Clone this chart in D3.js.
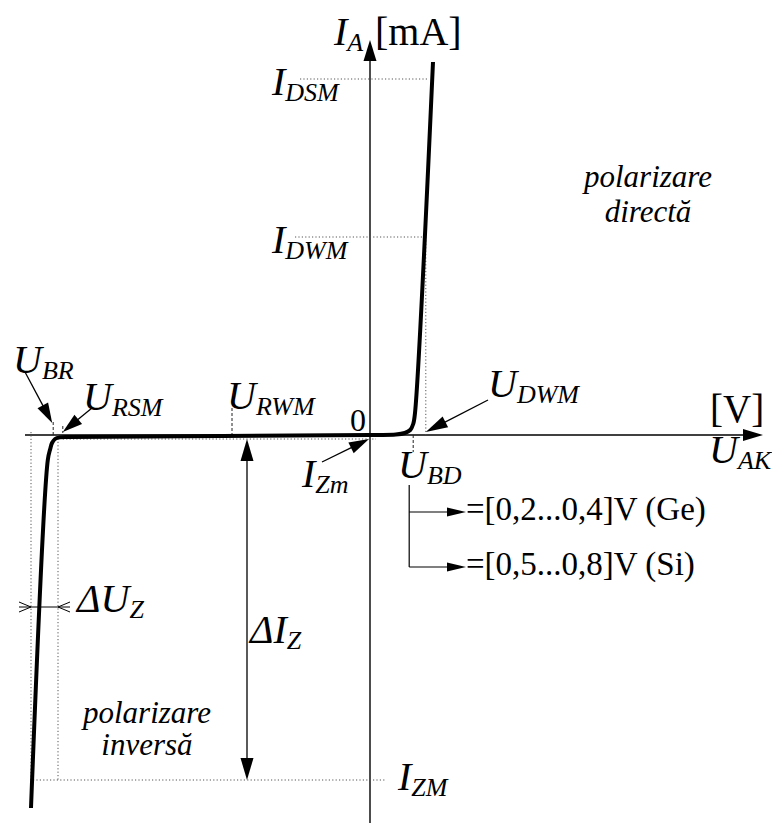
<!DOCTYPE html>
<html><head><meta charset="utf-8">
<script src="https://cdn.jsdelivr.net/npm/d3@7"></script>
<style>
html,body{margin:0;background:#fff}
svg{display:block}
</style>
</head><body>
<svg id="chart" width="772" height="823"></svg>
<script>
// Zener diode I–U characteristic (schematic). U in V, I in mA.
const curveU = [-5.65, -5.37, -5.33, -5.30, -5.25, -5.17, -5.0, 0, 0.43, 0.58, 0.67, 0.72, 0.75, 1.05];
const curveI = [-93.25, -6.25, -3.5, -2.0, -1.0, -0.6, -0.5, 0, 0.1, 0.5, 1.25, 2.75, 5.5, 93.25];

// characteristic currents (mA)
const iDSM = 89, iDWM = 49.5, iZm = -1, iZM = -86.25;
// characteristic voltages (V)
const uBR = -5.28, uRSM = -5.12, uRWM = -2.3, uBD = 0.72, uDWM = 0.93;
const uZrange = [-5.65, -5.2];
const ubdRanges = ["=[0,2...0,4]V (Ge)", "=[0,5...0,8]V (Si)"];

const FONT = '"Liberation Serif", "Times New Roman", Times, serif';
const svg = d3.select("#chart");
const x = d3.scaleLinear().domain([-5.75, 6.55]).range([25, 763]);
const y = d3.scaleLinear().domain([-97, 98.75]).range([823, 40]);

const pts = curveU.map((u, k) => ({u, i: curveI[k]}));
const x0 = x(0), y0 = y(0);

// U on the steep forward branch for a given current
function uForward(i) {
  const a = pts[pts.length - 2], b = pts[pts.length - 1];
  return a.u + (b.u - a.u) * (i - a.i) / (b.i - a.i);
}

function line(x1, y1, x2, y2, w = 1.3, dash = null, color = "#000") {
  const l = svg.append("line").attr("x1", x1).attr("y1", y1).attr("x2", x2).attr("y2", y2)
    .attr("stroke", color).attr("stroke-width", w);
  if (dash) l.attr("stroke-dasharray", dash);
  return l;
}
const dotted = (x1, y1, x2, y2) => line(x1, y1, x2, y2, 1, "1.2,2.2", "#555");
const dashed = (x1, y1, x2, y2) => line(x1, y1, x2, y2, 1, "3,2", "#222");

function head(tx, ty, ang, len = 20, w = 12) {
  const c = Math.cos(ang), s = Math.sin(ang);
  const bx = tx - c * len, by = ty - s * len;
  svg.append("path")
    .attr("d", `M${tx},${ty}L${bx - s * w / 2},${by + c * w / 2}L${bx + s * w / 2},${by - c * w / 2}Z`)
    .attr("fill", "#000");
}
function arrow(x1, y1, x2, y2, len = 20, w = 12, sw = 1.3) {
  const ang = Math.atan2(y2 - y1, x2 - x1);
  line(x1, y1, x2 - Math.cos(ang) * (len - 2), y2 - Math.sin(ang) * (len - 2), sw);
  head(x2, y2, ang, len, w);
}
function chevron(tx, ty, dir) {
  svg.append("path")
    .attr("d", `M${tx - dir * 12},${ty - 5}L${tx},${ty}L${tx - dir * 12},${ty + 5}`)
    .attr("fill", "none").attr("stroke", "#000").attr("stroke-width", 1);
}

function label(px, py, main, sub, size = 40, italic = true) {
  const t = svg.append("text").attr("x", px).attr("y", py)
    .style("font-family", FONT).style("font-size", size + "px")
    .style("font-style", italic ? "italic" : "normal").attr("fill", "#000");
  t.append("tspan").text(main);
  if (sub) t.append("tspan").style("font-size", (size * 0.65) + "px").attr("dy", 6).text(sub);
  return t;
}

// axes
line(x(-5.75), y0, x(6.55) - 18, y0, 1.4);
head(x(6.55), y0, 0, 20, 12);
line(x0, y(-97), x0, y(98.75) + 18, 1.4);
head(x0, y(98.75), -Math.PI / 2, 21, 13);

// reference levels
dotted(x0 - 70, y(iDSM), x(uForward(iDSM)) - 3, y(iDSM));
dotted(x0 - 75, y(iDWM), x(uForward(iDWM)), y(iDWM));
dotted(x(uDWM), y(iDWM), x(uDWM), y0);
dotted(x(uRSM), y(iZm), x0 + 6, y(iZm));
dotted(x(uZrange[0]), y0 - 3, x(uZrange[0]), y(iZM));
dotted(x(uZrange[1]), y0, x(uZrange[1]), y(iZM));
dotted(x(uZrange[0]) + 2, y(iZM), x0 + 16, y(iZM));

dashed(x(uBR), y0 - 13, x(uBR), y0);
dashed(x(uRSM), y0 - 9, x(uRSM), y0 - 2);
dashed(x(uRWM), y0 - 27, x(uRWM), y0);
dashed(x(uBD), y0, x(uBD), y0 + 17);

// characteristic curve
svg.append("path").datum(pts)
  .attr("d", d3.line().x(d => x(d.u)).y(d => y(d.i)).curve(d3.curveCatmullRom.alpha(0.5)))
  .attr("fill", "none").attr("stroke", "#000").attr("stroke-width", 4)
  .attr("stroke-linejoin", "round");

// pointer arrows
arrow(25, 372, x(uBR) - 1, y0 - 12, 20, 12);
arrow(92, 408, x(uRSM), y0 - 3, 20, 12);
arrow(322, 462, x0 - 1, y(iZm), 20, 12);
arrow(488, 400, x(uDWM), y0 - 3, 22, 12);

// ΔI_Z double arrow
const xdI = x(uRWM) + 15;
line(xdI, y(iZm) + 18, xdI, y(iZM) - 18, 1.3);
head(xdI, y(iZm), -Math.PI / 2, 22, 13);
head(xdI, y(iZM), Math.PI / 2, 22, 13);

// ΔU_Z marker
const yDU = 607;
line(x(uZrange[0]) - 12, yDU, x(uZrange[1]) + 12, yDU, 1);
chevron(x(uZrange[0]), yDU, 1);
chevron(x(uZrange[1]), yDU, -1);

// U_BD bracket
const xb = x(uBD) - 4;
line(xb, 485, xb, 567, 1.2);
arrow(xb, 512, 466, 512, 19, 9, 1.2);
arrow(xb, 567, 466, 567, 19, 9, 1.2);
ubdRanges.forEach((s, k) => label(466, 520 + k * 55, s, null, 33, false));

// text labels
label(334, 45, "I", "A");
label(375, 45, "[mA]", null, 40, false);
label(272, 95, "I", "DSM");
label(272, 253, "I", "DWM");
label(13, 373, "U", "BR");
label(83, 410, "U", "RSM");
label(227, 409, "U", "RWM");
label(350, 431, "0", null, 32, false);
label(302, 487, "I", "Zm");
label(398, 478, "U", "BD");
label(488, 397, "U", "DWM");
label(710, 422, "[V]", null, 39, false);
label(709, 463, "U", "AK");
label(398, 790, "I", "ZM");
label(77, 612, "\u0394U", "Z");
label(250, 643, "\u0394I", "Z");

function block(cx, lines, y1, gap) {
  lines.forEach((s, k) => svg.append("text").attr("x", cx).attr("y", y1 + k * gap)
    .attr("text-anchor", "middle").style("font-family", FONT).style("font-size", "31px")
    .style("font-style", "italic").text(s));
}
block(648, ["polarizare", "directă"], 187, 35);
block(147, ["polarizare", "inversă"], 723, 32);
</script>
</body></html>
